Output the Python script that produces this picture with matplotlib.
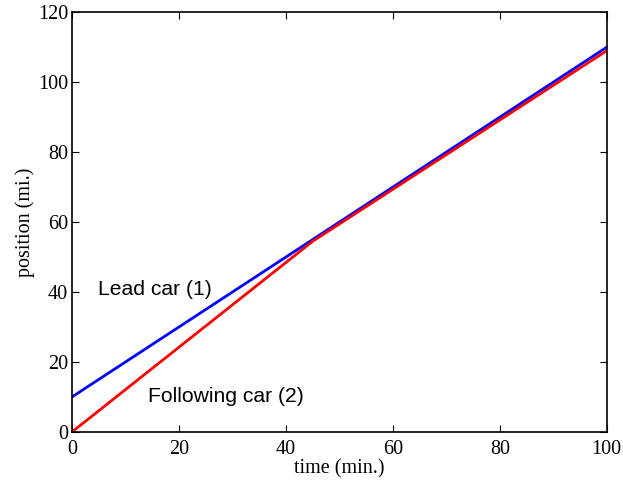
import matplotlib
matplotlib.use("Agg")
import matplotlib.pyplot as plt

# ===================================== Data
t_lead = [0, 100]
x_lead = [10, 110]

t_follow = [0, 45, 100]
x_follow = [0, 54.5, 109]

xticks = [0, 20, 40, 60, 80, 100]
yticks = [0, 20, 40, 60, 80, 100, 120]

# ===================================== Plot
fig = plt.figure(figsize=(6.23, 4.8), dpi=100)
ax = fig.add_axes([72.3 / 623, 1 - 431.7 / 480, (606.7 - 72.3) / 623, (431.7 - 12.3) / 480])

ax.plot(t_lead, x_lead, color='blue', lw=2)
ax.plot(t_follow, x_follow, color='red', lw=2)

ax.set_xlim(0, 100)
ax.set_ylim(0, 120)
ax.set_xticks(xticks)
ax.set_yticks(yticks)

serif = 'Liberation Serif'
ax.tick_params(direction='in', length=5, width=0.8, top=True, right=True, pad=3)
ax.tick_params(axis='x', pad=6)
for lab in ax.get_xticklabels() + ax.get_yticklabels():
    lab.set_fontfamily(serif)
    lab.set_fontsize(14.5)

ax.set_xlabel('time (min.)', fontfamily=serif, fontsize=14.5, labelpad=0)
ax.set_ylabel('position (mi.)', fontfamily=serif, fontsize=14.5, labelpad=2)

ax.text(4.9, 39.1, 'Lead car (1)', fontfamily='Liberation Sans', fontsize=15.2, va='baseline')
ax.text(14.2, 8.6, 'Following car (2)', fontfamily='Liberation Sans', fontsize=15.2, va='baseline')

for sp in ax.spines.values():
    sp.set_linewidth(1.2)

plt.savefig("out.png", dpi=100)
